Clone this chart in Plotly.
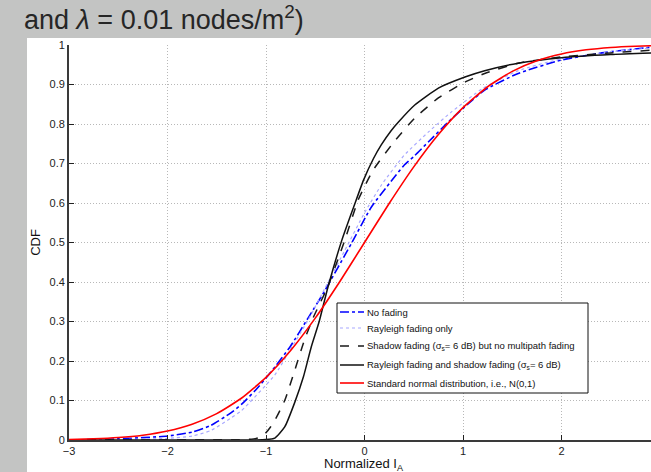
import plotly.graph_objects as go

# ---- data -------------------------------------------------------------
x_nofade = [-3, -2.5, -2, -1.75, -1.56, -1.36, -1.25, -1.1, -0.95, -0.75, -0.57, -0.41,
            -0.13, 0.07, 0.27, 0.4, 0.51, 0.65, 0.85, 1.06, 1.22, 1.56, 2.0, 2.41, 2.93]
y_nofade = [0.0, 0.003, 0.01, 0.02, 0.037, 0.068, 0.09, 0.128, 0.172, 0.238, 0.31, 0.375,
            0.499, 0.59, 0.655, 0.695, 0.72, 0.755, 0.805, 0.853, 0.886, 0.928, 0.962, 0.98, 0.995]

x_rayleigh = [-3, -2.5, -2, -1.75, -1.56, -1.36, -1.25, -0.91, -0.75, -0.57, -0.4, -0.2,
              0.0, 0.17, 0.4, 0.65, 0.88, 1.2, 1.56, 2.0, 2.5, 2.93]
y_rayleigh = [0.0, 0.001, 0.004, 0.01, 0.024, 0.055, 0.074, 0.165, 0.23, 0.305, 0.385,
              0.48, 0.575, 0.645, 0.72, 0.78, 0.83, 0.89, 0.935, 0.965, 0.983, 0.993]

x_shadow = [-3, -1.3, -1.2, -1.1, -1.02, -0.954, -0.91, -0.81, -0.71, -0.61, -0.52,
            -0.37, -0.2, -0.06, 0.09, 0.3, 0.51, 0.75, 1.02, 1.22, 1.56, 2.0, 2.5, 2.93]
y_shadow = [0.0, 0.0, 0.001, 0.004, 0.013, 0.033, 0.05, 0.10, 0.175, 0.253, 0.31,
            0.39, 0.506, 0.61, 0.684, 0.755, 0.815, 0.866, 0.906, 0.928, 0.954, 0.97, 0.98, 0.987]

x_both = [-3, -1.1, -1.0, -0.91, -0.81, -0.71, -0.62, -0.54, -0.46, -0.37, -0.23, -0.11,
          -0.01, 0.09, 0.17, 0.27, 0.345, 0.51, 0.75, 1.02, 1.22, 1.56, 2.0, 2.5, 2.93]
y_both = [0.0, 0.0, 0.001, 0.005, 0.033, 0.094, 0.16, 0.236, 0.30, 0.388, 0.506, 0.59,
          0.658, 0.712, 0.747, 0.783, 0.805, 0.848, 0.891, 0.919, 0.935, 0.954, 0.968, 0.976, 0.98]

x_normal = [-3, -2.75, -2.5, -2.25, -2, -1.75, -1.5, -1.25, -1, -0.75, -0.5, -0.25, 0,
            0.25, 0.5, 0.75, 1, 1.25, 1.5, 1.75, 2, 2.25, 2.5, 2.75, 3]
y_normal = [0.00135, 0.00298, 0.00621, 0.01222, 0.02275, 0.04006, 0.06681, 0.10565,
            0.15866, 0.22663, 0.30854, 0.40129, 0.5, 0.59871, 0.69146, 0.77337, 0.84134,
            0.89435, 0.93319, 0.95994, 0.97725, 0.98778, 0.99379, 0.99702, 0.99865]

x_ticks = [-3, -2, -1, 0, 1, 2]
y_ticks = [0, 0.1, 0.2, 0.3, 0.4, 0.5, 0.6, 0.7, 0.8, 0.9, 1]
y_ticklabels = ["0", "0.1", "0.2", "0.3", "0.4", "0.5", "0.6", "0.7", "0.8", "0.9", "1"]

names = [
    "No fading",
    "Rayleigh fading only",
    "Shadow fading (σ<sub>s</sub>= 6 dB) but no multipath fading",
    "Rayleigh fading and shadow fading (σ<sub>s</sub>= 6 dB)",
    "Standard normal distribution, i.e., N(0,1)",
]

# ---- figure geometry --------------------------------------------------
W, H = 651, 472
ML, MR, MT, MB = 69, 0, 45, 32
PW, PH = W - ML - MR, H - MT - MB
FONT = "Liberation Sans, Arial, sans-serif"


def px_x(p):
    return (p - ML) / PW


def px_y(p):
    return (H - MB - p) / PH


line_styles = [
    dict(color="#0000ff", width=1.6, dash="dashdot"),
    dict(color="#a8a8ff", width=1.2, dash="dot"),
    dict(color="#1a1a1a", width=1.5, dash="dash"),
    dict(color="#111111", width=1.5),
    dict(color="#ff0000", width=1.6),
]
series = [(x_nofade, y_nofade), (x_rayleigh, y_rayleigh), (x_shadow, y_shadow),
          (x_both, y_both), (x_normal, y_normal)]

fig = go.Figure()
for (xs, ys), ln, nm in zip(series, line_styles, names):
    fig.add_trace(go.Scatter(x=xs, y=ys, mode="lines", name=nm, showlegend=False,
                             line=dict(shape="spline", smoothing=0.5, **ln)))

# white panel on the grey slide background
fig.add_shape(type="rect", xref="paper", yref="paper", layer="below",
              x0=px_x(27), x1=px_x(W + 5), y0=px_y(H + 5), y1=px_y(38),
              fillcolor="white", line=dict(width=0))

# slide heading fragment
fig.add_annotation(text="and <i>λ</i> = 0.01 nodes/m<sup>2</sup>)", xref="paper", yref="paper",
                   x=px_x(22), y=px_y(18), xanchor="left", yanchor="middle",
                   showarrow=False, font=dict(size=27, color="#262626", family=FONT))

# x-axis title
fig.add_annotation(text="Normalized I<sub>A</sub>", xref="paper", yref="paper",
                   x=px_x(364), y=px_y(465), xanchor="center", yanchor="middle",
                   showarrow=False, font=dict(size=13, color="#111111", family=FONT))

# legend box drawn by hand
LX0, LX1, LY0, LY1 = 337, 588, 303, 393
fig.add_shape(type="rect", xref="paper", yref="paper", layer="above",
              x0=px_x(LX0), x1=px_x(LX1), y0=px_y(LY1), y1=px_y(LY0),
              fillcolor="white", line=dict(color="#111111", width=1))
row_y = [312, 328, 346, 365, 383]
for ry, ln, nm in zip(row_y, line_styles, names):
    fig.add_shape(type="line", xref="paper", yref="paper", layer="above",
                  x0=px_x(340), x1=px_x(364), y0=px_y(ry), y1=px_y(ry),
                  line=dict(color=ln["color"], width=ln["width"], dash=ln.get("dash", "solid")))
    fig.add_annotation(text=nm, xref="paper", yref="paper", x=px_x(365), y=px_y(ry),
                       xanchor="left", yanchor="middle", showarrow=False,
                       font=dict(size=9.5, color="#111111", family=FONT))

axis_common = dict(showgrid=True, gridcolor="#b8b8b8", griddash="1px,2px", gridwidth=1,
                   zeroline=False, showline=True, linecolor="#3a3a3a", linewidth=1.8,
                   ticks="inside", ticklen=5, tickcolor="#222222",
                   tickfont=dict(size=11, color="#222222", family=FONT))

fig.update_xaxes(range=[-3, -3 + PW / 98.5], tickvals=x_ticks, **axis_common)
fig.update_yaxes(range=[0, 1], tickvals=y_ticks, ticktext=y_ticklabels,
                 title=dict(text="CDF", font=dict(size=13, color="#111111", family=FONT),
                            standoff=6),
                 **axis_common)

fig.update_layout(
    width=W, height=H,
    margin=dict(l=ML, r=MR, t=MT, b=MB),
    paper_bgcolor="#c3c4c3",
    plot_bgcolor="white",
    font=dict(family=FONT, color="#111111"),
    showlegend=False,
)

fig.write_html("out.html")
